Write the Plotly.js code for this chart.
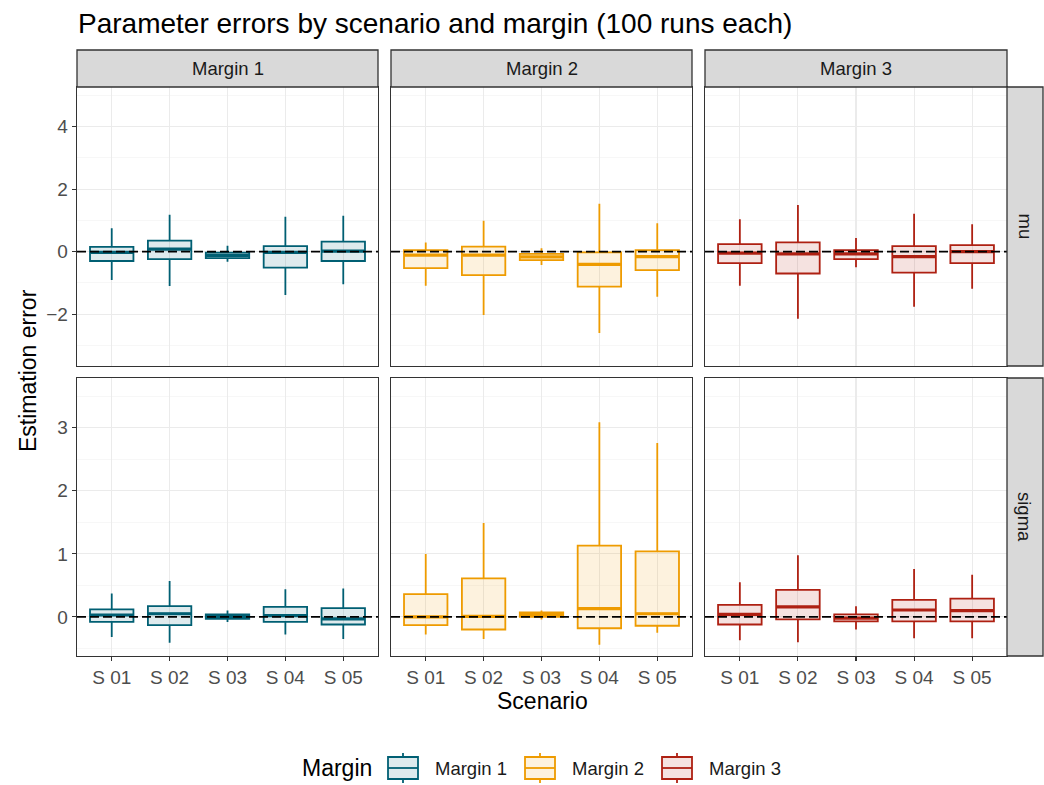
<!DOCTYPE html>
<html>
<head>
<meta charset="utf-8">
<script src="https://cdn.plot.ly/plotly-3.0.1.min.js"></script>
<style>
  html, body { margin: 0; padding: 0; background: #ffffff; }
  #chart { width: 1044px; height: 785px; }
</style>
</head>
<body>
<div id="chart"></div>
<script>
// Scenario categories, facet columns (margins) and facet rows (parameters)
const scenarios = ['S 01', 'S 02', 'S 03', 'S 04', 'S 05'];
const margins = ['Margin 1', 'Margin 2', 'Margin 3'];
const params = ['mu', 'sigma'];
const marginColors = ['#005f73', '#ee9b00', '#ae2012'];
const marginFills = ['rgba(0,95,115,0.13)', 'rgba(238,155,0,0.13)', 'rgba(174,32,18,0.13)'];

// Box statistics for mu, one row per margin, one value per scenario
const muLower = [
  [-0.91, -1.10, -0.32, -1.39, -1.04],
  [-1.09, -2.03, -0.43, -2.60, -1.44],
  [-1.09, -2.15, -0.50, -1.76, -1.19]
];
const muQ1 = [
  [-0.30, -0.24, -0.21, -0.51, -0.30],
  [-0.53, -0.75, -0.27, -1.12, -0.59],
  [-0.37, -0.70, -0.24, -0.67, -0.37]
];
const muMedian = [
  [-0.02, 0.08, -0.12, -0.02, 0.02],
  [-0.11, -0.11, -0.17, -0.41, -0.16],
  [-0.05, -0.07, -0.07, -0.16, 0.00]
];
const muQ3 = [
  [0.15, 0.35, -0.03, 0.18, 0.32],
  [0.05, 0.16, -0.07, -0.02, 0.05],
  [0.24, 0.30, 0.05, 0.18, 0.21]
];
const muUpper = [
  [0.75, 1.18, 0.19, 1.12, 1.15],
  [0.29, 0.99, 0.11, 1.53, 0.91],
  [1.04, 1.49, 0.44, 1.21, 0.88]
];

// Box statistics for sigma, one row per margin, one value per scenario
const sigmaLower = [
  [-0.32, -0.41, -0.08, -0.28, -0.35],
  [-0.28, -0.35, -0.04, -0.44, -0.25],
  [-0.37, -0.40, -0.20, -0.34, -0.34]
];
const sigmaQ1 = [
  [-0.08, -0.13, -0.03, -0.08, -0.12],
  [-0.13, -0.20, 0.00, -0.18, -0.14],
  [-0.12, -0.04, -0.07, -0.07, -0.07]
];
const sigmaMedian = [
  [0.03, 0.05, 0.01, 0.02, -0.03],
  [0.00, 0.01, 0.04, 0.13, 0.05],
  [0.04, 0.16, -0.02, 0.11, 0.10]
];
const sigmaQ3 = [
  [0.12, 0.17, 0.04, 0.16, 0.14],
  [0.36, 0.61, 0.07, 1.13, 1.04],
  [0.19, 0.43, 0.04, 0.27, 0.29]
];
const sigmaUpper = [
  [0.37, 0.57, 0.10, 0.44, 0.45],
  [1.00, 1.49, 0.10, 3.09, 2.76],
  [0.55, 0.98, 0.17, 0.76, 0.67]
];

const stats = {
  mu: { lo: muLower, q1: muQ1, med: muMedian, q3: muQ3, hi: muUpper },
  sigma: { lo: sigmaLower, q1: sigmaQ1, med: sigmaMedian, q3: sigmaQ3, hi: sigmaUpper }
};

// Panel geometry (paper fractions) for the 2 x 3 facet grid
const W = 1044, H = 785;
const colDomains = [[77 / W, 378 / W], [391 / W, 692 / W], [705 / W, 1007 / W]];
const rowDomains = [[1 - 366 / H, 1 - 87 / H], [1 - 656 / H, 1 - 378 / H]];
const yRanges = [[-3.66, 5.27], [-0.62, 3.79]];
const yDticks = [2, 1];

const FONT = 'Liberation Sans, Arial, Helvetica, sans-serif';
const TICK_SIZE = 19;
const STRIP_SIZE = 18.5;
const traces = [];
const layout = {
  width: W, height: H,
  margin: { l: 0, r: 0, t: 0, b: 0 },
  paper_bgcolor: '#ffffff',
  plot_bgcolor: '#ffffff',
  font: { family: FONT, color: '#1a1a1a' },
  boxgap: 0.25,
  boxgroupgap: 0,
  boxmode: 'overlay',
  showlegend: false,
  title: {
    text: 'Parameter errors by scenario and margin (100 runs each)',
    x: 78 / W, xanchor: 'left', xref: 'paper',
    y: 1 - 23 / H, yanchor: 'middle', yref: 'paper',
    font: { size: 28, color: '#000000', family: FONT }
  },
  shapes: [],
  annotations: []
};

params.forEach((p, r) => {
  margins.forEach((m, c) => {
    const idx = r * 3 + c + 1;
    const xa = idx === 1 ? 'x' : 'x' + idx;
    const ya = idx === 1 ? 'y' : 'y' + idx;
    const s = stats[p];

    traces.push({
      type: 'box',
      name: m,
      legendgroup: m,
      x: scenarios,
      q1: s.q1[c],
      median: s.med[c],
      q3: s.q3[c],
      lowerfence: s.lo[c],
      upperfence: s.hi[c],
      boxpoints: false,
      whiskerwidth: 0,
      line: { color: marginColors[c], width: 1.8 },
      fillcolor: marginFills[c],
      xaxis: xa, yaxis: ya,
      hoverinfo: 'skip'
    });

    // thicker median bars drawn on top of each box
    traces.push({
      type: 'scatter',
      mode: 'markers',
      x: scenarios,
      y: s.med[c],
      marker: {
        symbol: 'line-ew',
        size: 30.5,
        color: marginColors[c],
        line: { color: marginColors[c], width: 3.2 }
      },
      hoverinfo: 'skip',
      xaxis: xa, yaxis: ya
    });

    const bottom = r === 1;
    const left = c === 0;
    layout['xaxis' + (idx === 1 ? '' : idx)] = {
      domain: colDomains[c],
      anchor: ya,
      type: 'category',
      categoryorder: 'array',
      categoryarray: scenarios,
      range: [-0.6, 4.6],
      fixedrange: true,
      showgrid: true, gridcolor: '#ebebeb', gridwidth: 1.1,
      zeroline: false,
      showline: true, mirror: true, linecolor: '#333333', linewidth: 1.3,
      ticks: bottom ? 'outside' : '', ticklen: 4, tickwidth: 1.1, tickcolor: '#333333',
      showticklabels: bottom,
      tickfont: { size: TICK_SIZE, color: '#4d4d4d' }
    };
    layout['yaxis' + (idx === 1 ? '' : idx)] = {
      domain: rowDomains[r],
      anchor: xa,
      range: yRanges[r],
      fixedrange: true,
      tick0: 0, dtick: yDticks[r],
      minor: { dtick: yDticks[r] / 2, showgrid: true, gridcolor: '#f2f2f2', gridwidth: 0.6 },
      showgrid: true, gridcolor: '#ebebeb', gridwidth: 1.1,
      zeroline: false,
      showline: true, mirror: true, linecolor: '#333333', linewidth: 1.3,
      ticks: left ? 'outside' : '', ticklen: 4, tickwidth: 1.1, tickcolor: '#333333',
      showticklabels: left,
      tickfont: { size: TICK_SIZE, color: '#4d4d4d' }
    };

    // reference line at zero error
    layout.shapes.push({
      type: 'line', layer: 'above',
      xref: xa + ' domain', yref: ya,
      x0: 0, x1: 1, y0: 0, y1: 0,
      line: { color: '#000000', width: 1.7, dash: '9px,4px' }
    });
  });
});

// column strips
const stripTop = 1 - 50 / H, stripBottom = 1 - 87 / H;
margins.forEach((m, c) => {
  layout.shapes.push({
    type: 'rect', xref: 'paper', yref: 'paper', layer: 'above',
    x0: colDomains[c][0], x1: colDomains[c][1], y0: stripBottom, y1: stripTop,
    fillcolor: '#d9d9d9', line: { color: '#333333', width: 1.3 }
  });
  layout.annotations.push({
    xref: 'paper', yref: 'paper',
    x: (colDomains[c][0] + colDomains[c][1]) / 2, y: (stripTop + stripBottom) / 2,
    xanchor: 'center', yanchor: 'middle', showarrow: false,
    text: m, font: { size: STRIP_SIZE, color: '#1a1a1a' }
  });
});

// row strips
const rowStripLeft = 1007 / W, rowStripRight = 1043 / W;
params.forEach((p, r) => {
  layout.shapes.push({
    type: 'rect', xref: 'paper', yref: 'paper', layer: 'above',
    x0: rowStripLeft, x1: rowStripRight, y0: rowDomains[r][0], y1: rowDomains[r][1],
    fillcolor: '#d9d9d9', line: { color: '#333333', width: 1.3 }
  });
  layout.annotations.push({
    xref: 'paper', yref: 'paper',
    x: (rowStripLeft + rowStripRight) / 2, y: (rowDomains[r][0] + rowDomains[r][1]) / 2,
    xanchor: 'center', yanchor: 'middle', showarrow: false, textangle: 90,
    text: p, font: { size: STRIP_SIZE, color: '#1a1a1a' }
  });
});

// axis titles
layout.annotations.push({
  xref: 'paper', yref: 'paper', x: 28 / W, y: 1 - 371 / H,
  xanchor: 'center', yanchor: 'middle', showarrow: false, textangle: -90,
  text: 'Estimation error', font: { size: 23, color: '#000000' }
});
layout.annotations.push({
  xref: 'paper', yref: 'paper', x: 542 / W, y: 1 - 701 / H,
  xanchor: 'center', yanchor: 'middle', showarrow: false,
  text: 'Scenario', font: { size: 23, color: '#000000' }
});

// legend: title plus one boxplot key per margin
const legendMidY = 768, keyLeft = 388, keyPitch = 137, keyW = 30;
layout.annotations.push({
  xref: 'paper', yref: 'paper', x: 300 / W, y: 1 - legendMidY / H,
  xanchor: 'left', yanchor: 'middle', showarrow: false,
  text: 'Margin', font: { size: 23, color: '#000000' }
});
margins.forEach((m, c) => {
  const x0 = keyLeft + c * keyPitch, x1 = x0 + keyW, xm = (x0 + x1) / 2;
  const px = v => v / W, py = v => 1 - v / H;
  const col = marginColors[c];
  layout.shapes.push(
    { type: 'line', xref: 'paper', yref: 'paper', x0: px(xm), x1: px(xm), y0: py(753), y1: py(757),
      line: { color: col, width: 1.8 } },
    { type: 'line', xref: 'paper', yref: 'paper', x0: px(xm), x1: px(xm), y0: py(779), y1: py(783),
      line: { color: col, width: 1.8 } },
    { type: 'rect', xref: 'paper', yref: 'paper', x0: px(x0), x1: px(x1), y0: py(779), y1: py(757),
      fillcolor: marginFills[c], line: { color: col, width: 1.8 } },
    { type: 'line', xref: 'paper', yref: 'paper', x0: px(x0), x1: px(x1), y0: py(legendMidY), y1: py(legendMidY),
      line: { color: col, width: 1.8 } }
  );
  layout.annotations.push({
    xref: 'paper', yref: 'paper', x: px(x0 + 45), y: py(legendMidY),
    xanchor: 'left', yanchor: 'middle', showarrow: false,
    text: m, font: { size: 18.5, color: '#1a1a1a' }
  });
});

Plotly.newPlot('chart', traces, layout, { displayModeBar: false, staticPlot: true });
</script>
</body>
</html>
